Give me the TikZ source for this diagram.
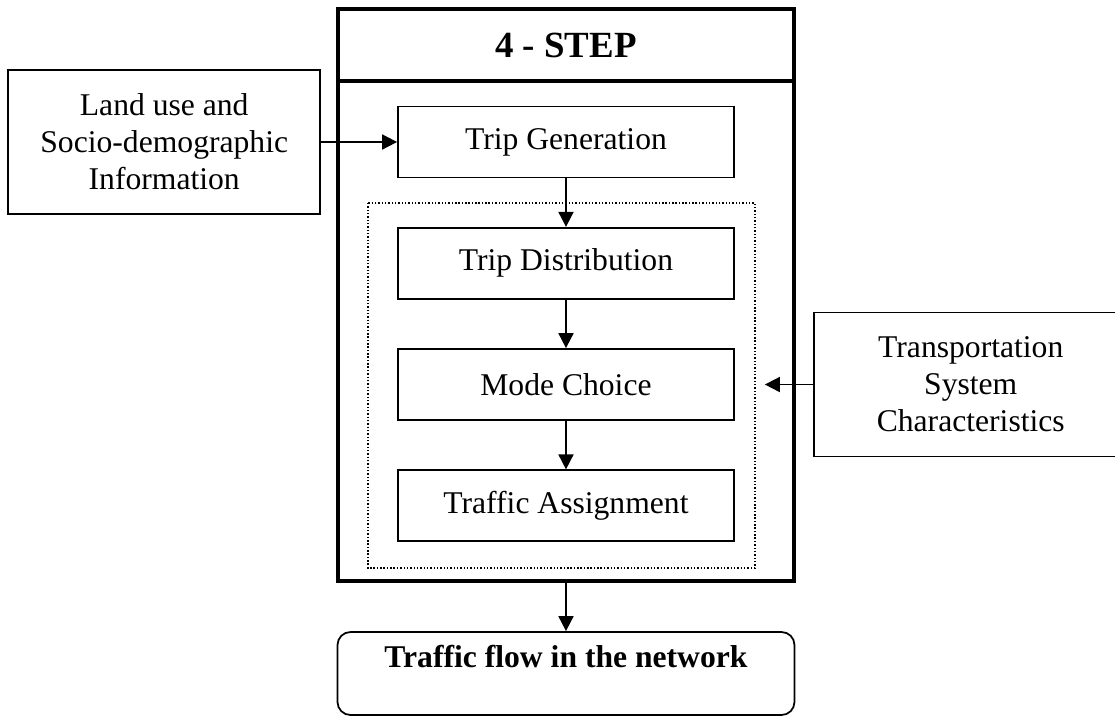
\documentclass[tikz,border=0pt]{standalone}
\usepackage{fontspec}
\setmainfont{Liberation Serif}
\usetikzlibrary{shapes, arrows.meta, calc, positioning}

\begin{document}
\begin{tikzpicture}
        \tikzstyle{stage}=[draw, line width=1pt, minimum width=6.72cm, minimum height=1.42cm, font=\fontsize{18}{21}\selectfont]
        \tikzstyle{inbox}=[draw, line width=1pt, minimum width=6.24cm, minimum height=2.88cm, align=center, font=\fontsize{18}{21}\selectfont]
        \tikzstyle{stepframe}=[draw, line width=2pt, outer sep=0pt, minimum width=9.12cm]
        \tikzstyle{arrow} = [-{Triangle[length=0.3cm, width=0.3cm]}, line width=1pt]

        \useasboundingbox (-11.32,-11.5) rectangle (10.98,2.84);
        \clip (-11.32,-11.5) rectangle (10.98,2.84);

        \node[stage] (gen) {Trip Generation};
        \node[stage, below = 0.97cm of gen] (dist) {Trip Distribution};
        \node[stage, below = 0.97cm of dist] (mode) {Mode Choice};
        \node[stage, below = 0.97cm of mode] (assign) {Traffic Assignment};

        \node[stepframe, above = 0.49cm of gen, minimum height=1.44cm, font=\fontsize{21}{25}\selectfont\bfseries] (header) {4 - STEP};
        \node[stepframe, below = 0cm of header, minimum height=10cm] (body) {};

        \node[inbox, left = 1.52cm of gen] (landuse) {Land use and\\Socio-demographic\\Information};
        \node[inbox, right = 1.56cm of mode, minimum width=6.28cm] (transport) {Transportation\\System\\Characteristics};

        \node[draw, line width=1pt, rounded corners=0.26cm, below = 1cm of body, minimum width=9.14cm, inner ysep=0pt, text height=0.7cm, text depth=0.96cm, font=\fontsize{18}{21}\selectfont\bfseries] (flow) {Traffic flow in the network};

        %dotted group round the last three steps
        \draw[line width=0.8pt, dash pattern=on 0.8pt off 1.1pt] ($(dist.north west)+(-0.58,0.48)$) rectangle ($(assign.south east)+(0.40,-0.52)$);
        \coordinate (tin) at ($(transport.west)+(-0.96,0)$);

        \draw[arrow] (landuse) -- (gen);
        \draw[arrow] (gen) -- (dist);
        \draw[arrow] (dist) -- (mode);
        \draw[arrow] (mode) -- (assign);
        \draw[arrow] (transport) -- (tin);
        \draw[arrow] (body) -- (flow);
    \end{tikzpicture}
\end{document}
